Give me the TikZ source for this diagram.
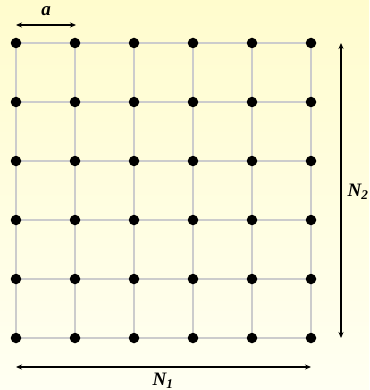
\documentclass[tikz,border=0pt]{standalone}
\usepackage{fontspec}
\setmainfont{Liberation Serif}
\usetikzlibrary{arrows.meta}
\begin{document}
\begin{tikzpicture}[x=1pt,y=-1pt,
  dot/.style={circle,fill=black,inner sep=0pt,minimum size=10.5pt},
  gridline/.style={draw=black!20,line width=1.2pt},
  dimarrow/.style={{Stealth[length=6pt,width=5pt,inset=2pt]}-{Stealth[length=6pt,width=5pt,inset=2pt]},line width=1.2pt},
  lab/.style={font=\fontsize{19}{21}\selectfont\bfseries\itshape,inner sep=0pt}]
\useasboundingbox (0,0) rectangle (369,390);
\shade[top color={rgb,255:red,255;green,252;blue,205}, bottom color={rgb,255:red,255;green,255;blue,242}] (0,0) rectangle (369,390);
\foreach \i in {0,...,5}{
  \draw[gridline] (16+59*\i,43) -- (16+59*\i,338);
  \draw[gridline] (16,43+59*\i) -- (311,43+59*\i);
}
\foreach \i in {0,...,5}{
  \foreach \j in {0,...,5}{
    \node[dot] (d-\i-\j) at (16+59*\i,43+59*\j) {};
  }
}
\coordinate (aL) at (16,25);
\coordinate (aR) at (76,25);
\coordinate (vT) at (341,43);
\coordinate (vB) at (341,338);
\coordinate (hL) at (16,367);
\coordinate (hR) at (311,367);
\draw[dimarrow] (aL) -- (aR);
\draw[dimarrow] (vT) -- (vB);
\draw[dimarrow] (hL) -- (hR);
\node[lab] (la) at (46,11) {a};
\node[lab] (ln2) at (358,192) {N\textsubscript{2}};
\node[lab] (ln1) at (163,381) {N\textsubscript{1}};
\end{tikzpicture}
\end{document}
